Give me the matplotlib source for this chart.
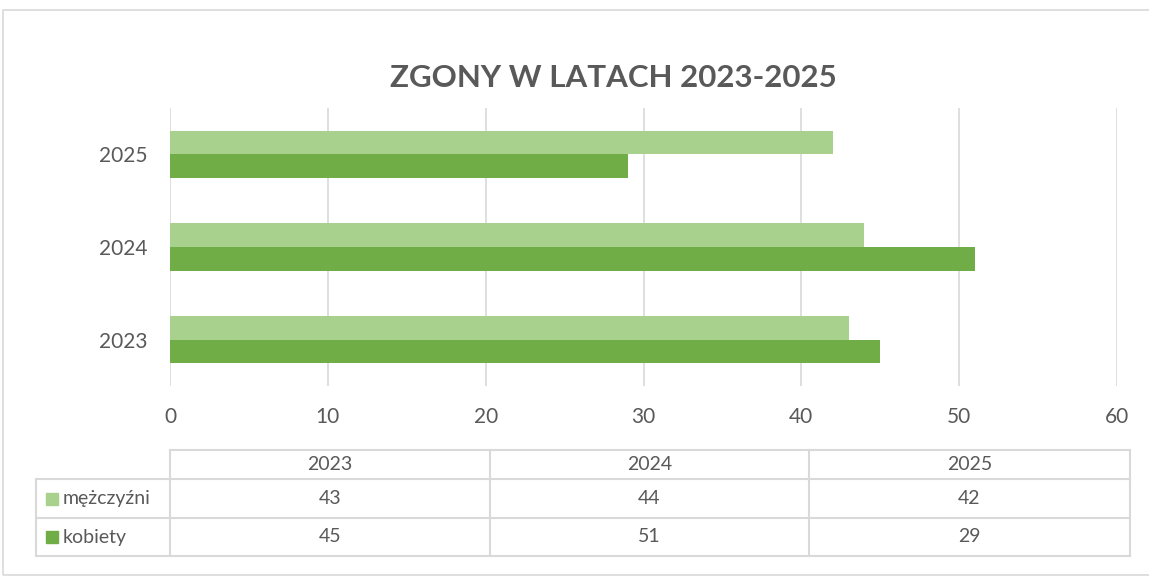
# Zgony w latach 2023-2025 - bar chart with data table underneath
import matplotlib.pyplot as plt
from matplotlib.patches import Rectangle
from matplotlib.lines import Line2D
import numpy as np

years = ['2023', '2024', '2025']
men = [43, 44, 42]
women = [45, 51, 29]
series_names = ['mężczyźni', 'kobiety']
series_colors = ['#A9D18E', '#70AD47']

plt.rcParams['font.family'] = ['Lato', 'DejaVu Sans']

W, H = 1149, 577
fig = plt.figure(figsize=(W/100, H/100), dpi=100)

def fx(px): return px / W
def fy(py): return 1 - py / H

# outer frame
fig.add_artist(Rectangle((fx(3), fy(575)), fx(1160) - fx(3), fy(10) - fy(575),
                         transform=fig.transFigure, fill=False, ec='#D9D9D9', lw=1.2))

ax = fig.add_axes([fx(170), fy(386), fx(1117) - fx(170), fy(108) - fy(386)])
y = np.arange(len(years))
h = 0.255
ax.barh(y + h/2, men, height=h, color=series_colors[0])
ax.barh(y - h/2, women, height=h, color=series_colors[1])
ax.set_ylim(-0.5, 2.5)
ax.set_xlim(0, 60)
ax.set_xticks(range(0, 61, 10))
ax.set_yticks(y)
ax.set_yticklabels(years)
ax.grid(axis='x', color='#D9D9D9', lw=1.2)
ax.set_axisbelow(True)
for s in ax.spines.values():
    s.set_visible(False)
ax.tick_params(length=0, labelsize=15, colors='#595959')
ax.tick_params(axis='x', pad=15)
ax.tick_params(axis='y', pad=16)

fig.text(fx(613), fy(78), 'ZGONY W LATACH 2023-2025', ha='center', va='center',
         fontsize=22.5, fontweight='bold', color='#595959')

# data table
col_x = [170, 490, 809, 1130]
row_y = [450, 479, 518, 556]
lab_x = 36
lc = '#D9D9D9'

def hline(x0, x1, yy):
    fig.add_artist(Line2D([fx(x0), fx(x1)], [fy(yy), fy(yy)], color=lc, lw=1.5))

def vline(xx, y0, y1):
    fig.add_artist(Line2D([fx(xx), fx(xx)], [fy(y0), fy(y1)], color=lc, lw=1.5))

hline(col_x[0], col_x[-1], row_y[0])
for yy in row_y[1:]:
    hline(lab_x, col_x[-1], yy)
vline(lab_x, row_y[1], row_y[-1])
for xx in col_x:
    vline(xx, row_y[0], row_y[-1])

for i, yr in enumerate(years):
    cx = (col_x[i] + col_x[i + 1]) / 2
    fig.text(fx(cx), fy((row_y[0] + row_y[1]) / 2), yr, ha='center', va='center',
             fontsize=14, color='#595959')

for r, (name, vals, c) in enumerate(zip(series_names, [men, women], series_colors)):
    cy = (row_y[r + 1] + row_y[r + 2]) / 2
    fig.add_artist(Rectangle((fx(46), fy(cy + 6)), fx(58) - fx(46), fy(cy - 6) - fy(cy + 6),
                             transform=fig.transFigure, color=c))
    fig.text(fx(63), fy(cy), name, ha='left', va='center', fontsize=14, color='#595959')
    for i, v in enumerate(vals):
        cx = (col_x[i] + col_x[i + 1]) / 2
        fig.text(fx(cx), fy(cy), str(v), ha='center', va='center',
                 fontsize=14, color='#595959')

fig.savefig('out.png', dpi=100)
